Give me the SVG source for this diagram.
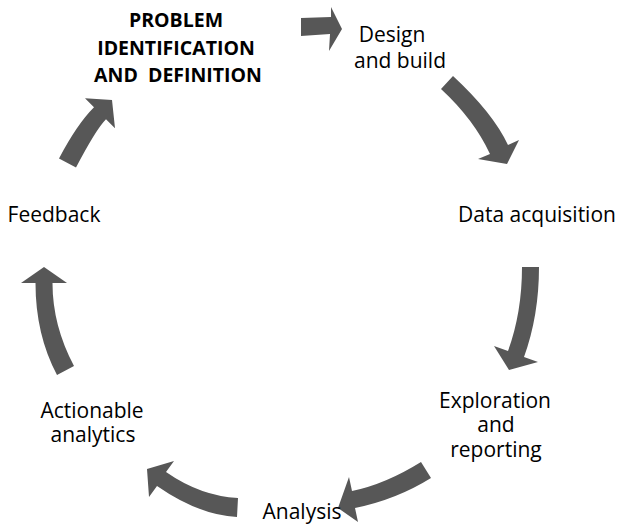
<svg xmlns="http://www.w3.org/2000/svg" width="621" height="525" viewBox="0 0 621 525">
  <style>
    .lbl { font-family: "Open Sans", "Noto Sans", "DejaVu Sans", sans-serif; font-size: 21px; fill: #000; text-anchor: middle; }
    .hd { font-family: "Open Sans", "Noto Sans", "DejaVu Sans", sans-serif; font-size: 19.5px; font-weight: bold; fill: #000; text-anchor: middle; }
    .arrow { fill: #575757; stroke: none; }
  </style>
  <rect width="621" height="525" fill="#fff"/>

  <!-- cycle arrows, clockwise from the top -->
  <g id="connectors">
    <path class="arrow" d="M301,18 L331,17 L331,7 L342,29 L329,51 L330,34 L301,36 Z"/>
    <path class="arrow" d="M453,76 Q493,113 508,145 L519,140 L507,164 L478,159 L490,154 Q474,119.5 441,89 Z"/>
    <path class="arrow" d="M539,267 Q539,315.6 524,357 L538,362 L509,370 L494,346 L508,351 Q522,312.5 522,267 Z"/>
    <path class="arrow" d="M431,478 Q396.5,499.5 355,508 L358,522 L338,508 L349,477 L352,491 Q385.3,484.2 421,462 Z"/>
    <path class="arrow" d="M238,498 Q200.7,496.1 166,472 L174,461 L147,469 L149,497 L157,486 Q198.8,515 237,517 Z"/>
    <path class="arrow" d="M74,366 Q52.5,325.5 52.5,283 L67,283 L44,267 L21,283 L35.5,283 Q35.5,334.5 57,375 Z"/>
    <path class="arrow" d="M59,158.5 Q76.9,124.4 94,107.3 L85,98.3 L112,100 L115,128.3 L106,119.3 Q96.2,129.1 76,167.5 Z"/>
  </g>

  <g id="problem">
    <text class="hd" x="176" y="27">PROBLEM</text>
    <text class="hd" x="176" y="55">IDENTIFICATION</text>
    <text class="hd" x="178" y="82" xml:space="preserve">AND  DEFINITION</text>
  </g>
  <g id="design">
    <text class="lbl" x="392" y="42">Design</text>
    <text class="lbl" x="400" y="68">and build</text>
  </g>
  <g id="acquisition">
    <text class="lbl" x="537" y="222">Data acquisition</text>
  </g>
  <g id="exploration">
    <text class="lbl" x="495" y="408">Exploration</text>
    <text class="lbl" x="496" y="432">and</text>
    <text class="lbl" x="496" y="457">reporting</text>
  </g>
  <g id="analysis">
    <text class="lbl" x="302" y="519">Analysis</text>
  </g>
  <g id="actionable">
    <text class="lbl" x="92" y="418">Actionable</text>
    <text class="lbl" x="93" y="442">analytics</text>
  </g>
  <g id="feedback">
    <text class="lbl" x="54" y="222">Feedback</text>
  </g>
</svg>
